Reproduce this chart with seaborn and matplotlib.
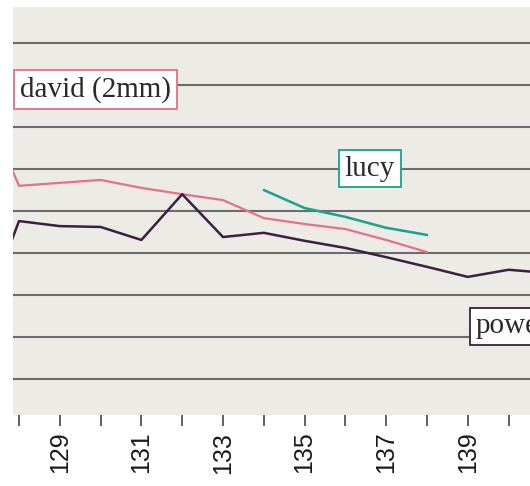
import matplotlib
matplotlib.use("Agg")
import matplotlib.pyplot as plt
import seaborn as sns
import pandas as pd

david_x = [127, 128, 129, 130, 131, 132, 133, 134, 135, 136, 137, 138]
david_y = [78.8, 56.0, 56.7, 57.4, 55.5, 54.0, 52.6, 48.3, 46.9, 45.7, 43.1, 40.2]

power_x = [127, 128, 129, 130, 131, 132, 133, 134, 135, 136, 137, 138, 139, 140, 141]
power_y = [21.7, 47.6, 46.4, 46.2, 43.1, 54.0, 43.8, 44.8, 42.9, 41.2, 39.0, 36.7, 34.3, 36.0, 35.2]

lucy_x = [134, 135, 136, 137, 138]
lucy_y = [55.0, 50.7, 48.6, 46.0, 44.3]

tick_positions = list(range(128, 141))
tick_labels = ["" if t % 2 == 0 else str(t) for t in tick_positions]
grid_levels = [10, 20, 30, 40, 50, 60, 70, 80, 90]

series_names = ["david (2mm)", "lucy", "powell"]
colors = {"david (2mm)": "#e4708c", "lucy": "#16a38c", "powell": "#3a1f44"}

sns.set_style("white", {"axes.facecolor": "#ecebe5"})

fig = plt.figure(figsize=(5.3, 4.86), dpi=100)
xmin = 127.853
xmax = 141.0
px_per_unit = 40.8
width_px = (xmax - xmin) * px_per_unit
ax = fig.add_axes([13 / 530, (486 - 415) / 486, width_px / 530, (415 - 7) / 486])
ax.set_facecolor("#ecebe5")

df_d = pd.DataFrame({"x": david_x, "y": david_y})
df_p = pd.DataFrame({"x": power_x, "y": power_y})
df_l = pd.DataFrame({"x": lucy_x, "y": lucy_y})

sns.lineplot(data=df_d, x="x", y="y", ax=ax, color=colors["david (2mm)"], lw=1.6, zorder=3)
sns.lineplot(data=df_p, x="x", y="y", ax=ax, color=colors["powell"], lw=1.8, zorder=4)
sns.lineplot(data=df_l, x="x", y="y", ax=ax, color=colors["lucy"], lw=1.8, zorder=3)

ax.set_xlim(xmin, xmax)
ax.set_ylim(1.4, 98.6)
ax.set_yticks(grid_levels)
ax.set_yticklabels([])
ax.tick_params(axis="y", length=0)
ax.yaxis.grid(True, color="#6c6c6c", lw=1.5)
ax.xaxis.grid(False)
ax.set_axisbelow(True)

ax.set_xticks(tick_positions)
ax.set_xticklabels(tick_labels, rotation=90, fontsize=18, family="Liberation Sans", color="#1a1a1a", va="top")
ax.tick_params(axis="x", direction="out", length=8, width=1.3, color="#555555", pad=4, bottom=True)
ax.set_xlabel("")
ax.set_ylabel("")
for s in ax.spines.values():
    s.set_visible(False)

def label(x, y, txt, ec, ha):
    t = ax.text(x, y, txt, ha=ha, va="center", fontsize=21, family="Liberation Serif",
                color="#2a2a2a", zorder=6,
                bbox=dict(boxstyle="square,pad=0.2", fc="white", ec=ec, lw=1.3))
    t.set_clip_box(ax.bbox)
    t.set_clip_on(True)
    return t

label(131.73, 78.9, series_names[0], colors["david (2mm)"], "right")
label(136.60, 60.1, series_names[1], colors["lucy"], "center")
label(139.20, 22.5, series_names[2], colors["powell"], "left")

fig.savefig("out.png", dpi=100, facecolor="white")
